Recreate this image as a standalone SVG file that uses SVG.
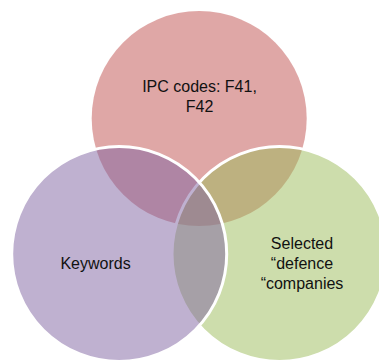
<svg xmlns="http://www.w3.org/2000/svg" width="379" height="360" viewBox="0 0 379 360">
  <style>
    .lbl { font-family: "Liberation Sans", Arial, sans-serif; font-size: 16px; fill: #111; text-anchor: middle; }
    .c { fill-opacity: 0.5; }
    .s { stroke: #fff; stroke-width: 3; }
  </style>
  <rect width="379" height="360" fill="#fff"/>
  <g id="connectors"></g>
  <g id="ipc">
    <circle class="c" cx="199.2" cy="118.5" r="107.5" fill="#C0504D"/>
    <text class="lbl" x="199.5" y="92">IPC codes: F41,</text>
    <text class="lbl" x="199.5" y="112">F42</text>
  </g>
  <g id="companies">
    <circle class="c s" cx="279.5" cy="254" r="107.5" fill="#9BBB59"/>
    <text class="lbl" x="302" y="249">Selected</text>
    <text class="lbl" x="302" y="269">“defence</text>
    <text class="lbl" x="302" y="289">“companies</text>
  </g>
  <g id="keywords">
    <circle class="c s" cx="119.2" cy="254" r="107.5" fill="#8064A2"/>
    <text class="lbl" x="95.5" y="269">Keywords</text>
  </g>
</svg>
